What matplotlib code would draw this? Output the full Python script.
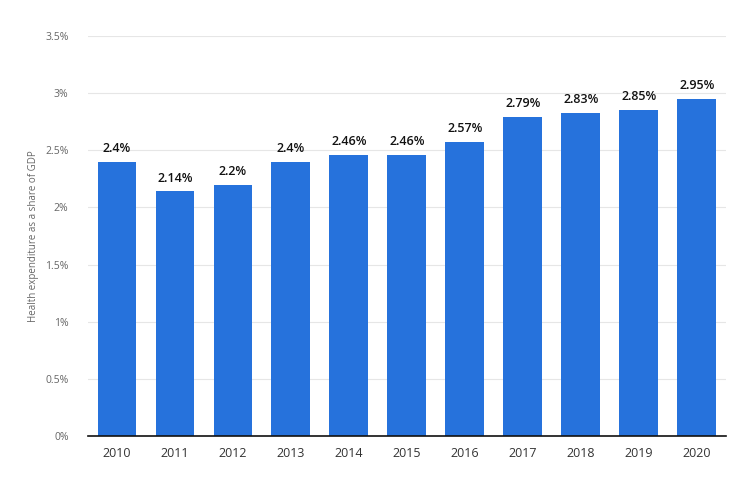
import matplotlib
matplotlib.use("Agg")
import matplotlib.pyplot as plt
from matplotlib.ticker import FuncFormatter

years  = ["2010", "2011", "2012", "2013", "2014", "2015", "2016", "2017", "2018", "2019", "2020"]
values = [2.4, 2.14, 2.2, 2.4, 2.46, 2.46, 2.57, 2.79, 2.83, 2.85, 2.95]
labels = ["2.4%", "2.14%", "2.2%", "2.4%", "2.46%", "2.46%", "2.57%", "2.79%", "2.83%", "2.85%", "2.95%"]
yticks = [0, 0.5, 1, 1.5, 2, 2.5, 3, 3.5]

plt.rcParams["font.family"] = ["Open Sans", "DejaVu Sans"]

fig = plt.figure(figsize=(7.42, 4.8), dpi=100)
ax = fig.add_axes([0.1186, 0.0917, 0.8594, 0.8333])

x = range(len(years))
bars = ax.bar(x, values, width=0.67, color="#2672dc", zorder=3)

for b, lab in zip(bars, labels):
    ax.text(b.get_x() + b.get_width() / 2, b.get_height() + 0.06, lab,
            ha="center", va="bottom", fontsize=9, fontweight="semibold", color="#111111")

ax.set_xlim(-0.5, 10.5)
ax.set_ylim(0, 3.5)
ax.set_yticks(yticks)
ax.yaxis.set_major_formatter(FuncFormatter(lambda v, _: f"{v:g}%"))
ax.set_xticks(list(x))
ax.set_xticklabels(years)

ax.grid(axis="y", color="#e6e6e6", linewidth=0.8, zorder=0)
for s in ["top", "right", "left"]:
    ax.spines[s].set_visible(False)
ax.spines["bottom"].set_color("#111111")
ax.spines["bottom"].set_linewidth(1.2)
ax.spines["bottom"].set_zorder(4)

ax.tick_params(axis="y", length=0, labelsize=7.5, labelcolor="#666666", pad=14)
ax.tick_params(axis="x", length=0, labelsize=9, labelcolor="#333333", pad=8)

ax.set_ylabel("Health expenditure as a share of GDP", fontsize=7, color="#666666")
ax.yaxis.set_label_coords(-0.077, 0.5)

fig.savefig("out.png", dpi=100)
